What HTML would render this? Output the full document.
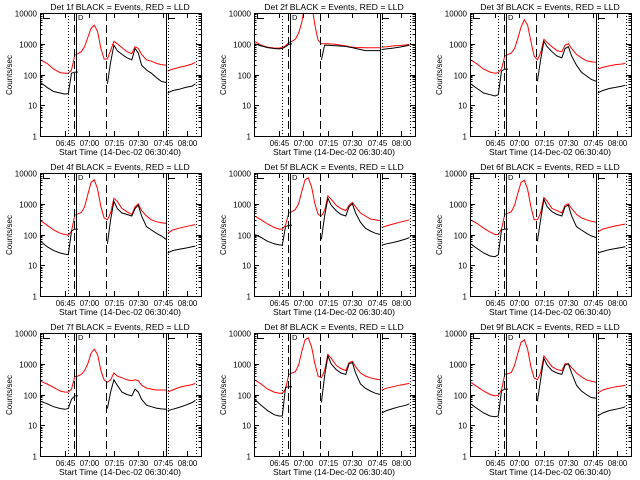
<!DOCTYPE html>
<html><head><meta charset="utf-8"><style>
html,body{margin:0;padding:0;background:#fff;}
svg{display:block;font-family:"Liberation Sans",sans-serif;}
</style></head><body>
<svg id="chart" width="640" height="480" viewBox="0 0 640 480" xmlns="http://www.w3.org/2000/svg"></svg>
<script>
const times = [0,4,8,12,15,17,19,21,23,25,27,29,31,33,35,37,39,41,43,45,47,50,53,56,58,60,62,65,68,71,74,77,77.5,78,81,85,89,93,95];
const n = null;
const tickLabels = ["06:45","07:00","07:15","07:30","07:45","08:00"];
const tickMinutes = [15,30,45,60,75,90];
const yTickValues = [1,10,100,1000,10000];
const yTickLabels = ["1","10","100","1000","10000"];
const detNames = ["1f","2f","3f","4f","5f","6f","7f","8f","9f"];
const red1=[300,230,150,115,110,110,140,420,480,550,800,1600,3200,4000,2500,700,320,320,600,1200,1000,750,550,480,800,700,450,300,270,230,210,200,n,130,150,170,190,220,250];
const blk1=[55,38,28,25,23,24,110,120,120,n,n,n,n,n,n,n,n,50,250,900,600,450,350,300,700,500,200,140,110,80,60,55,n,25,30,33,38,42,50];
const red2=[1200,900,780,730,720,760,850,1100,1200,1400,2200,5000,20000,20000,20000,4000,1300,1000,1000,1000,980,950,900,850,800,780,750,750,740,740,740,740,n,780,800,850,880,920,950];
const blk2=[1000,850,750,700,680,700,800,950,1000,n,n,n,n,n,n,n,n,300,900,900,880,860,840,820,780,750,700,650,600,600,600,600,n,650,680,720,780,850,900];
const red3=[300,220,150,120,110,115,150,400,450,500,700,1500,3500,6000,4000,1200,400,300,500,1400,1100,800,600,550,900,1000,700,450,350,280,260,250,n,150,170,190,210,220,230];
const blk3=[50,35,25,22,20,22,130,150,150,n,n,n,n,n,n,n,n,60,300,1200,800,550,400,350,700,800,400,200,120,90,70,60,n,25,30,35,38,42,45];
const red4=[280,200,140,110,100,95,130,420,470,520,800,2000,5000,6000,3000,800,350,300,500,1500,1200,700,550,450,800,1000,600,400,300,260,240,230,n,110,140,160,180,200,210];
const blk4=[60,40,30,25,23,22,130,150,150,n,n,n,n,n,n,n,n,50,300,1200,700,500,450,400,700,900,400,180,140,110,90,70,n,25,30,33,36,40,42];
const red5=[400,300,220,170,150,150,200,500,550,650,1000,2500,6000,7000,3500,1000,450,400,600,1800,1400,900,700,600,900,1100,800,500,400,320,300,280,n,170,190,220,250,280,300];
const blk5=[100,80,60,50,46,45,180,200,200,n,n,n,n,n,n,n,n,70,400,1500,900,600,450,400,800,1000,500,250,160,130,110,100,n,45,50,55,62,72,80];
const red6=[300,230,160,120,100,100,150,450,490,550,900,2200,5000,5800,3000,800,300,300,500,1600,1200,700,600,500,900,1000,700,450,350,300,270,250,n,120,150,170,190,210,220];
const blk6=[50,35,25,20,19,22,140,150,150,n,n,n,n,n,n,n,n,60,300,1400,800,550,450,400,800,900,400,180,140,110,90,80,n,25,28,32,35,38,40];
const red7=[270,220,170,130,120,120,150,380,400,450,600,1000,2200,3000,2000,600,300,250,300,500,400,350,300,280,300,280,200,160,150,140,140,140,n,120,140,170,190,210,230];
const blk7=[60,50,40,35,33,35,70,90,90,n,n,n,n,n,n,n,n,35,120,300,200,120,100,90,150,120,70,45,40,36,34,33,n,30,33,38,45,55,65];
const red8=[300,220,150,120,110,110,150,450,500,550,900,2500,6000,7000,3500,1000,400,350,600,2000,1500,900,700,600,1100,1200,800,500,400,350,320,300,n,140,160,180,200,220,230];
const blk8=[70,45,30,22,20,20,170,180,180,n,n,n,n,n,n,n,n,55,400,1800,1000,650,500,450,1000,1100,500,220,160,130,110,100,n,25,30,35,40,45,50];
const red9=[250,180,130,100,90,95,140,450,480,520,900,2200,5000,6000,3000,800,350,300,500,1800,1300,800,650,600,1000,1000,750,500,380,300,270,250,n,110,140,160,180,190,200];
const blk9=[50,35,25,20,19,20,130,150,150,n,n,n,n,n,n,n,n,60,300,1500,900,600,500,450,900,1000,500,200,130,100,80,75,n,20,25,30,33,37,40];
const redSeries=[red1,red2,red3,red4,red5,red6,red7,red8,red9];
const blackSeries=[blk1,blk2,blk3,blk4,blk5,blk6,blk7,blk8,blk9];

const NS="http://www.w3.org/2000/svg";
const svg=document.getElementById('chart');
function mk(tag,attrs,parent){const e=document.createElementNS(NS,tag);for(const k in attrs)e.setAttribute(k,attrs[k]);(parent||svg).appendChild(e);return e;}
const colL=[40,254,470], rowT=[13,173,333], W=161, H=123;

for(let p=0;p<9;p++){
  const L=colL[p%3], T=rowT[Math.floor(p/3)], B=T+H, R=L+W;
  const g=mk('g',{});
  
  
  const xs=t=>L+25+(t-15)*1.63;
  const ys=v=>B-(Math.log10(Math.max(v,0.5)))*(H/4);
  const clip=mk('clipPath',{id:'c'+p},g);
  mk('rect',{x:L,y:T,width:W,height:H},clip);
  function drawSeries(arr,color,name){
    let d='',pen=false;
    for(let i=0;i<times.length;i++){
      if(arr[i]===null){pen=false;continue;}
      d+=(pen?'L':'M')+xs(times[i]).toFixed(1)+' '+ys(arr[i]).toFixed(1)+' ';
      pen=true;
    }
    const pth=mk('path',{d:d,fill:'none',stroke:color,'stroke-width':1,'clip-path':'url(#c'+p+')'},g);
    
    
  }
  drawSeries(redSeries[p],'#ff0000','lld-series-red');
  drawSeries(blackSeries[p],'#000000','events-series-black');
  const vl=[[28,'1 2'],[34,'8 4'],[36,''],[66,'8 4'],[126,''],[128,'1 2'],[156,'1 2']];
  vl.forEach(v=>{
    const a={x1:L+v[0]+0.5,x2:L+v[0]+0.5,y1:T,y2:B,stroke:'#000','stroke-width':1,'shape-rendering':'crispEdges'};
    if(v[1])a['stroke-dasharray']=v[1];
    const ln=mk('line',a,g);
    
    
  });
  [3,128].forEach(o=>{mk('path',{d:`M${L+o+0.5} ${T} V${T+5.5} H${L+o+7}`,fill:'none',stroke:'#000','stroke-width':1,'shape-rendering':'crispEdges'},g);});
  mk('text',{x:L+38,y:T+7,'font-size':7.5},g).textContent='D';
  const box=mk('rect',{x:L+0.5,y:T+0.5,width:W,height:H,fill:'none',stroke:'#000','stroke-width':1,'shape-rendering':'crispEdges'},g);
  
  
  for(let k=0;k<yTickValues.length;k++){
    const y=Math.round(ys(yTickValues[k]))+0.5;
    mk('line',{x1:L,x2:L+5,y1:y,y2:y,stroke:'#000','shape-rendering':'crispEdges'},g);
    mk('line',{x1:R-5,x2:R,y1:y,y2:y,stroke:'#000','shape-rendering':'crispEdges'},g);
    const t=mk('text',{x:L-3,y:y+3,'font-size':8,'text-anchor':'end'},g);
    t.textContent=yTickLabels[k];
    
    
    if(k<yTickValues.length-1){for(let m=2;m<10;m++){const ym=Math.round(ys(yTickValues[k]*m))+0.5;mk('line',{x1:L,x2:L+2.5,y1:ym,y2:ym,stroke:'#000','shape-rendering':'crispEdges'},g);mk('line',{x1:R-2.5,x2:R,y1:ym,y2:ym,stroke:'#000','shape-rendering':'crispEdges'},g);}}
  }
  for(let k=0;k<tickMinutes.length;k++){
    const x=Math.round(xs(tickMinutes[k]))+0.5;
    mk('line',{x1:x,x2:x,y1:B,y2:B-5,stroke:'#000','shape-rendering':'crispEdges'},g);
    mk('line',{x1:x,x2:x,y1:T,y2:T+5,stroke:'#000','shape-rendering':'crispEdges'},g);
    const t=mk('text',{x:x,y:B+10,'font-size':7.8,'text-anchor':'middle'},g);
    t.textContent=tickLabels[k];
    
    
  }
  const xt=mk('text',{x:L+80,y:B+19,'font-size':8.5,'text-anchor':'middle'},g);
  xt.textContent='Start Time (14-Dec-02 06:30:40)';
  
  
  const yt=mk('text',{x:0,y:0,'font-size':8,'text-anchor':'middle',transform:`translate(${L-28},${T+62}) rotate(-90)`},g);
  yt.textContent='Counts/sec';
  
  
  const ti=mk('text',{x:L+80,y:T-3,'font-size':8.7,'text-anchor':'middle'},g);
  ti.textContent='Det '+detNames[p]+' BLACK = Events, RED = LLD';
  
  
}
</script>
</body></html>
